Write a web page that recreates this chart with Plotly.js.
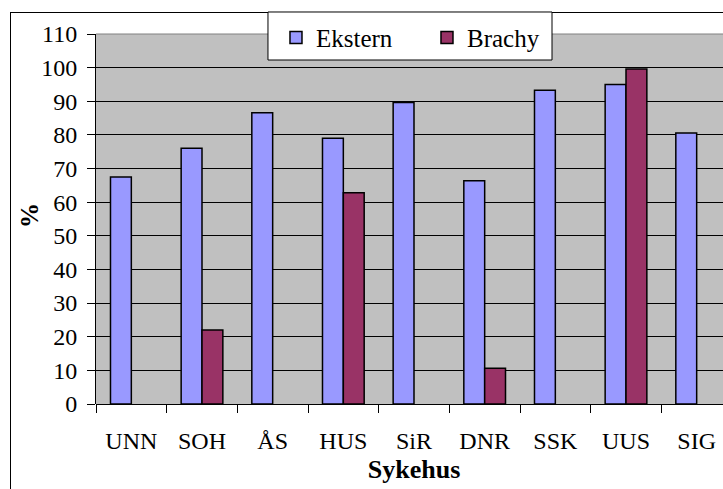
<!DOCTYPE html>
<html>
<head>
<meta charset="utf-8">
<script src="https://cdn.plot.ly/plotly-3.0.1.min.js"></script>
<style>
  html, body { margin: 0; padding: 0; overflow: hidden; background: #fff; width: 723px; height: 489px; }
  #frame { position: absolute; left: 10px; top: 12px; width: 900px; height: 700px; border: 1px solid #000; box-sizing: border-box; }
  #chart { position: absolute; left: 0; top: 0; }
</style>
</head>
<body>
<div id="frame"></div>
<div id="chart"></div>
<script>
const categories = ["UNN", "SOH", "ÅS", "HUS", "SiR", "DNR", "SSK", "UUS", "SIG"];
const ekstern = [67.5, 76, 86.6, 79, 89.6, 66.4, 93.3, 95, 80.6];
const brachy = [null, 22, null, 62.8, null, 10.6, null, 99.6, null];
const yTicks = [0, 10, 20, 30, 40, 50, 60, 70, 80, 90, 100, 110];

const FONT = "\"Liberation Serif\", \"Times New Roman\", serif";

const traces = [
  { type: "bar", name: "Ekstern", x: categories, y: ekstern,
    marker: { color: "#9999FF", line: { color: "#000", width: 1.5 } } },
  { type: "bar", name: "Brachy", x: categories, y: brachy,
    marker: { color: "#993366", line: { color: "#000", width: 1.5 } } }
];

const layout = {
  width: 740, height: 489,
  margin: { l: 96, r: 8, t: 34, b: 85 },
  paper_bgcolor: "rgba(0,0,0,0)",
  plot_bgcolor: "#C0C0C0",
  barmode: "group",
  bargap: 0.41,
  bargroupgap: 0,
  font: { family: FONT, size: 24, color: "#000" },
  xaxis: {
    type: "category",
    tickson: "boundaries",
    ticks: "outside", ticklen: 8, tickcolor: "#000",
    showline: false, showgrid: false,
    ticklabelstandoff: 20,
    tickfont: { family: FONT, size: 24 },
    title: { text: "Sykehus", font: { family: FONT, size: 26, weight: "bold" }, standoff: 6 }
  },
  yaxis: {
    range: [0, 110],
    tickvals: yTicks,
    ticks: "outside", ticklen: 8, tickcolor: "#000",
    showline: true, linecolor: "#000", linewidth: 1,
    showgrid: true, gridcolor: "#000", gridwidth: 1,
    zeroline: true, zerolinecolor: "#000", zerolinewidth: 1,
    ticklabelstandoff: 5,
    tickfont: { family: FONT, size: 24 }
  },
  annotations: [
    { text: "<b>%</b>", xref: "paper", yref: "paper", x: -0.1038, y: 0.511,
      xanchor: "center", yanchor: "middle", textangle: -90, showarrow: false,
      font: { family: FONT, size: 25 } }
  ],
  shapes: [
    { type: "line", xref: "paper", yref: "paper", x0: 0, x1: 1, y0: 1, y1: 1,
      line: { color: "#808080", width: 1 } },
    { type: "rect", xref: "paper", yref: "paper", x0: 0.2704, x1: 0.717, y0: 0.9297, y1: 1.0595,
      fillcolor: "#fff", line: { color: "#000", width: 1 }, layer: "above" }
  ],
  legend: {
    orientation: "h",
    x: 0.283, y: 1.052, xanchor: "left", yanchor: "top",
    bgcolor: "rgba(0,0,0,0)", borderwidth: 0,
    font: { family: FONT, size: 25 },
    entrywidth: 106,
    itemwidth: 30
  },
  showlegend: true
};

Plotly.newPlot("chart", traces, layout, { staticPlot: true, displayModeBar: false });
</script>
</body>
</html>
